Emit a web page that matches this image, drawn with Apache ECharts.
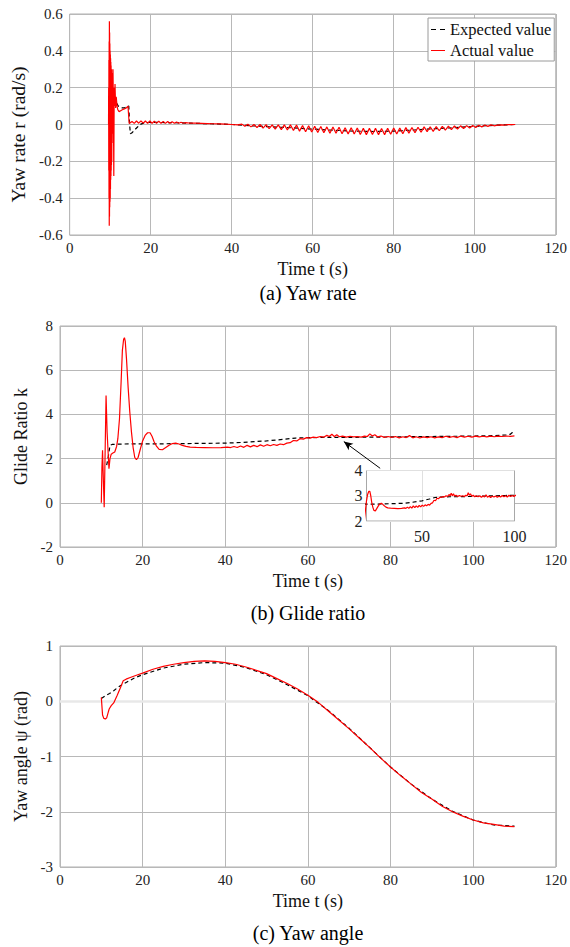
<!DOCTYPE html>
<html><head><meta charset="utf-8">
<script src="https://cdn.jsdelivr.net/npm/echarts@6/dist/echarts.min.js"></script>
<style>html,body{margin:0;padding:0;background:#fff}#c{width:570px;height:947px}</style>
</head><body><div id="c"></div>
<script>
// ---------- (a) Yaw rate ----------
const rateExpectedTime = [10, 10.5, 11, 11.5, 12, 12.5, 13, 13.5, 14, 14.4, 14.6, 14.8, 15.0, 15.4, 16, 16.7, 17.4, 18.5, 20, 25, 30, 35, 40, 45, 50, 55, 60, 65, 70, 75, 80, 85, 90, 95, 100, 105, 110];
const rateExpectedValue = [0.3, 0.18, 0.14, 0.12, 0.1, 0.095, 0.09, 0.09, 0.095, 0.1, 0.1, 0.0, -0.05, -0.045, -0.03, -0.015, 0.0, 0.01, 0.012, 0.01, 0.007, 0.004, 0.0, -0.007, -0.013, -0.018, -0.025, -0.031, -0.036, -0.038, -0.036, -0.030, -0.023, -0.017, -0.010, -0.004, 0.0];
const rateActualTime = [9.6, 9.63, 9.66, 9.69, 9.72, 9.75, 9.78, 9.81, 9.84, 9.87, 9.9, 9.93, 9.96, 9.99, 10.02, 10.05, 10.08, 10.11, 10.14, 10.17, 10.2, 10.23, 10.26, 10.29, 10.32, 10.35, 10.4, 10.45, 10.5, 10.55, 10.6, 10.7, 10.8, 10.9, 11.0, 11.1, 11.2, 11.35, 11.5, 11.7, 11.9, 12.2, 12.6, 13.0, 13.5, 14.0, 14.4, 14.55, 14.7,
  15.4, 15.95, 16.5, 17.05, 17.6, 18.15, 18.7, 19.25, 19.8, 20.35, 20.9, 21.45, 22.0, 22.55, 23.1, 23.65, 24.2, 24.75, 25.3, 25.85, 26.4, 26.95, 27.5, 28.05, 28.6,
  29.5, 31, 32.5, 34, 35.5, 37, 38.5, 40, 41.5,
  42.5, 43.25, 44.0, 44.75, 45.5, 46.25, 47.0, 47.75, 48.5, 49.25, 50.0, 50.75, 51.5, 52.25, 53.0, 53.75, 54.5, 55.25, 56.0, 56.75, 57.5, 58.25, 59.0, 59.75,
  60.5, 61.25, 62.0, 62.75, 63.5, 64.25, 65.0, 65.75, 66.5, 67.25, 68.0, 68.75, 69.5, 70.25, 71.0, 71.75, 72.5, 73.25, 74.0, 74.75, 75.5, 76.25, 77.0, 77.75,
  78.5, 79.25, 80.0, 80.75, 81.5, 82.25, 83.0, 83.75, 84.5, 85.25, 86.0, 86.75, 87.5, 88.25, 89.0, 89.75, 90.5, 91.25, 92.0, 92.75, 93.5, 94.25, 95.0, 95.75,
  96.5, 97.25, 98.0, 98.75, 99.5, 100.25, 101.0, 101.75, 102.5, 103.25, 104.0, 104.75,
  105.7, 106.5, 107.3, 108.1, 109, 110];
const rateActualValue = [0.0, 0.2, -0.25, 0.35, -0.4, 0.45, -0.55, 0.56, -0.5, 0.5, -0.45, 0.44, -0.42, 0.4, -0.4, 0.38, -0.35, 0.36, -0.3, 0.34, -0.28, 0.32, -0.25, 0.3, -0.22, 0.3, -0.2, 0.28, -0.1, 0.25, -0.05, 0.3, 0.1, -0.28, 0.2, 0.1, 0.22, 0.09, 0.15, 0.1, 0.08, 0.07, 0.075, 0.08, 0.085, 0.09, 0.1, 0.1, 0.005,
  0.016, 0.006, 0.019, 0.007, 0.02, 0.007, 0.019, 0.006, 0.019, 0.007, 0.018, 0.006, 0.018, 0.007, 0.017, 0.006, 0.016, 0.007, 0.015, 0.007, 0.014, 0.007, 0.012, 0.007, 0.01,
  0.008, 0.007, 0.006, 0.005, 0.004, 0.003, 0.002, 0.0, -0.002,
  0.002, -0.010, 0.001, -0.013, 0.0, -0.016, 0.0, -0.020, -0.001, -0.023, -0.002, -0.025, -0.002, -0.028, -0.002, -0.030, -0.002, -0.033, -0.003, -0.036, -0.005, -0.039, -0.007, -0.041,
  -0.009, -0.043, -0.011, -0.045, -0.013, -0.047, -0.014, -0.048, -0.015, -0.050, -0.018, -0.051, -0.018, -0.052, -0.019, -0.054, -0.021, -0.055, -0.021, -0.054, -0.021, -0.055, -0.022, -0.055,
  -0.020, -0.053, -0.019, -0.052, -0.019, -0.050, -0.017, -0.047, -0.016, -0.045, -0.015, -0.042, -0.013, -0.039, -0.012, -0.037, -0.011, -0.034, -0.010, -0.031, -0.009, -0.028, -0.008, -0.025,
  -0.007, -0.022, -0.006, -0.019, -0.005, -0.016, -0.004, -0.013, -0.003, -0.010, -0.002, -0.007,
  -0.003, -0.002, -0.003, -0.001, -0.001, 0.0];

// ---------- (b) Glide ratio ----------
const glideExpectedTime = [11.3, 11.7, 12.1, 12.6, 13.5, 15, 20, 25, 30, 35, 40, 44, 47, 50, 54, 57, 60, 65, 70, 75, 80, 85, 90, 95, 100, 105, 108, 109, 109.5, 110];
const glideExpectedValue = [1.7, 2.1, 2.6, 2.64, 2.65, 2.66, 2.67, 2.67, 2.68, 2.69, 2.7, 2.73, 2.77, 2.8, 2.87, 2.93, 2.95, 2.96, 2.96, 2.97, 2.98, 2.99, 3.0, 3.01, 3.02, 3.04, 3.07, 3.1, 3.18, 3.3];
const glideActualTime = [10.0, 10.15, 10.3, 10.5, 10.7, 10.95, 11.15, 11.4, 11.85, 12.1, 12.4, 12.8, 13.25, 13.7, 14.0, 14.4, 14.8, 15.1, 15.4, 15.6, 15.8, 16.1, 16.5, 16.9, 17.3, 17.7, 18.1, 18.5, 18.9, 19.4,
  20.0, 20.6, 21.2, 21.8, 22.3, 22.8, 23.4, 24.0, 24.8, 25.6, 26.4, 27.2, 28.0, 28.8, 29.6, 30.5, 31.5, 33, 35, 37, 39, 40.5, 41.3, 42.1, 42.9, 43.7, 44.5, 45.3, 46.1, 46.9,
  47.7, 48.5, 49.3, 50.1, 50.9, 51.7, 52.5, 53.3, 54.1, 54.9, 55.7, 56.5, 57.3, 58.1, 58.9, 59.7, 60.5, 61.3, 62.1, 63, 63.8, 64.6, 65.2, 65.8, 66.4, 67.0, 67.6, 68.4, 69.3, 70.2,
  71.1, 72.0, 72.9, 73.7, 74.4, 75.0, 75.6, 76.2, 76.9, 77.7, 78.5, 79.4, 80.3, 81.2, 82.1, 83.0, 83.8, 84.6, 85.4, 86.2, 87.1, 88.0, 88.9, 89.8, 90.7, 91.6, 92.5, 93.4, 94.3, 95.2,
  96.1, 97.0, 97.9, 98.8, 99.7, 100.6, 101.5, 102.4, 103.3, 104.2, 105.1, 106, 107, 108, 109, 110];
const glideActualValue = [0.0, 1.6, 2.38, 1.0, -0.2, 2.6, 4.86, 3.2, 1.54, 2.0, 2.2, 2.25, 2.3, 2.55, 2.9, 3.8, 5.5, 6.9, 7.4, 7.47, 7.3, 6.5, 5.2, 4.1, 3.2, 2.5, 2.05, 1.95, 2.05, 2.4,
  2.8, 3.05, 3.17, 3.17, 3.0, 2.75, 2.55, 2.42, 2.4, 2.5, 2.6, 2.68, 2.7, 2.66, 2.6, 2.55, 2.52, 2.51, 2.5, 2.49, 2.5, 2.52, 2.5, 2.55, 2.5, 2.57, 2.51, 2.6, 2.53, 2.6,
  2.54, 2.62, 2.56, 2.63, 2.58, 2.64, 2.6, 2.66, 2.63, 2.7, 2.72, 2.82, 2.8, 2.9, 2.88, 2.95, 2.93, 2.97, 2.95, 3.0, 2.97, 3.05, 3.0, 3.1, 3.0, 3.08, 2.99, 3.02, 2.97, 3.01,
  2.98, 3.0, 2.97, 3.02, 3.0, 3.12, 3.02, 3.08, 2.98, 3.02, 2.96, 3.0, 2.96, 3.0, 2.94, 2.99, 2.95, 3.04, 2.94, 2.99, 2.93, 2.98, 2.95, 2.99, 2.94, 2.98, 2.95, 3.01, 2.96, 3.0,
  2.95, 3.02, 2.97, 3.01, 2.97, 3.02, 2.98, 3.01, 2.98, 3.02, 2.99, 3.02, 3.0, 3.02, 3.01, 3.03];
const arrowFrom = [77.5, 1.56];
const arrowTo = [68.7, 2.77];

// ---------- (c) Yaw angle ----------
const yawExpectedTime = [10, 11, 12, 13, 14, 15, 16, 18, 20, 25, 30, 35, 40, 45, 50, 55, 60, 65, 70, 75, 80, 85, 90, 95, 100, 105, 110];
const yawExpectedValue = [0.05, 0.1, 0.14, 0.19, 0.25, 0.3, 0.34, 0.42, 0.48, 0.6, 0.67, 0.7, 0.69, 0.61, 0.48, 0.3, 0.1, -0.17, -0.49, -0.84, -1.19, -1.5, -1.77, -1.99, -2.15, -2.24, -2.26];
const yawActualTime = [10.0, 10.3, 10.6, 11.0, 11.3, 11.6, 11.9, 12.4, 13.0, 13.8, 14.6, 15.3, 16, 17, 18.5, 20, 22.5, 25, 27.5, 30, 32.5, 35, 37.5, 40, 42.5, 45, 47.5, 50, 52.5, 55, 57.5, 60, 62.5, 65, 67.5, 70, 72.5, 75, 77.5, 80, 82.5, 85, 87.5, 90, 92.5, 95, 97.5, 100, 102.5, 105, 107.5, 110];
const yawActualValue = [0.07, -0.25, -0.31, -0.32, -0.3, -0.22, -0.14, -0.08, -0.03, 0.1, 0.24, 0.37, 0.4, 0.43, 0.47, 0.51, 0.58, 0.63, 0.67, 0.7, 0.72, 0.73, 0.72, 0.7, 0.67, 0.62, 0.56, 0.5, 0.41, 0.32, 0.22, 0.11, -0.02, -0.18, -0.34, -0.5, -0.67, -0.84, -1.02, -1.19, -1.35, -1.5, -1.65, -1.77, -1.9, -2.0, -2.08, -2.15, -2.2, -2.23, -2.26, -2.27];

// ---------- axes ----------
const timeTicks = [0, 120, 20];
const insetTimeLabels = [50, 100];

const FONT = 'Liberation Serif';
const GRIDC = '#b8b8b8';
function zip(t, v) { const n = Math.min(t.length, v.length); const o = []; for (let i = 0; i < n; i++) o.push([t[i], v[i]]); return o; }

function xAx(gi) {
  return { type: 'value', gridIndex: gi, min: timeTicks[0], max: timeTicks[1], interval: timeTicks[2],
    name: 'Time t (s)', nameLocation: 'middle', nameGap: 25,
    nameTextStyle: { fontSize: 18, fontFamily: FONT, color: '#111' },
    axisLine: { show: false }, axisTick: { show: false },
    axisLabel: { fontSize: 15, fontFamily: FONT, color: '#222', margin: 5 },
    splitLine: { show: true, lineStyle: { color: GRIDC, width: 1 } } };
}
function yAx(gi, min, max, interval, name, gap, fs, pad) {
  return { type: 'value', gridIndex: gi, min, max, interval, name, nameLocation: 'middle', nameGap: gap,
    nameTextStyle: { fontSize: fs, fontFamily: FONT, color: '#111', padding: pad || 0 },
    axisLine: { show: false }, axisTick: { show: false },
    axisLabel: { fontSize: 15, fontFamily: FONT, color: '#222', margin: 7 },
    splitLine: { show: true, lineStyle: { color: GRIDC, width: 1 } } };
}
function line(name, gi, t, v, dashed, extra) {
  return Object.assign({
    type: 'line', name, xAxisIndex: gi, yAxisIndex: gi, data: zip(t, v),
    symbol: 'none', showSymbol: false, clip: true, z: dashed ? 2 : 3,
    lineStyle: dashed ? { color: '#000', width: 1.2, type: [4, 3] } : { color: '#ff0000', width: 1.2 },
    itemStyle: { color: dashed ? '#000' : '#ff0000' }
  }, extra || {});
}

const chart = echarts.init(document.getElementById('c'), null, { renderer: 'svg' });
chart.setOption({
  animation: false,
  backgroundColor: '#fff',
  textStyle: { fontFamily: FONT },
  grid: [
    { left: 60, top: 14, width: 497, height: 221, show: true, borderColor: '#b0b0b0', borderWidth: 1, backgroundColor: 'transparent' },
    { left: 60, top: 326, width: 497, height: 221, show: true, borderColor: '#b0b0b0', borderWidth: 1, backgroundColor: 'transparent' },
    { left: 60, top: 646, width: 497, height: 221, show: true, borderColor: '#b0b0b0', borderWidth: 1, backgroundColor: 'transparent' },
    { left: 366.5, top: 470.5, width: 148, height: 50.5, show: true, borderColor: '#a8a8a8', borderWidth: 1, backgroundColor: '#fff', z: 3 }
  ],
  xAxis: [
    xAx(0), xAx(1), xAx(2),
    { type: 'value', gridIndex: 3, min: 20, max: 100, interval: 10, z: 4,
      axisLine: { show: false }, axisTick: { show: false }, splitLine: { show: false },
      axisLabel: { fontSize: 16, fontFamily: FONT, color: '#222', margin: 7,
        formatter: v => insetTimeLabels.indexOf(v) >= 0 ? String(v) : '' } }
  ],
  yAxis: [
    yAx(0, -0.6, 0.6, 0.2, 'Yaw rate r (rad/s)', 36, 19.5, [0, 20, 0, 0]),
    yAx(1, -2, 8, 2, 'Glide Ratio k', 20, 18),
    yAx(2, -3, 1, 1, 'Yaw angle \u03c8 (rad)', 19, 18),
    { type: 'value', gridIndex: 3, min: 2, max: 4, interval: 1, z: 4,
      axisLine: { show: false }, axisTick: { show: false },
      axisLabel: { fontSize: 16, fontFamily: FONT, color: '#222', margin: 4 },
      splitLine: { show: true, lineStyle: { color: '#e0e0e0', width: 1 } } }
  ],
  legend: {
    orient: 'vertical', left: 428, top: 18, padding: [3, 3, 2, 3],
    itemWidth: 14, itemHeight: 1.4, itemGap: 4,
    borderColor: '#9a9a9a', borderWidth: 1, backgroundColor: '#fff',
    textStyle: { fontSize: 16.5, fontFamily: FONT, color: '#111' },
    data: [
      { name: 'Expected value', icon: 'path://M0,0h5v1h-5zM9,0h5v1h-5z' },
      { name: 'Actual value', icon: 'path://M0,0h14v1h-14z' }
    ]
  },
  graphic: [
    { type: 'text', x: 308, y: 293, style: { text: '(a) Yaw rate', font: '20px "Liberation Serif"', fill: '#000', textAlign: 'center', textVerticalAlign: 'middle' } },
    { type: 'text', x: 308, y: 613, style: { text: '(b) Glide ratio', font: '20px "Liberation Serif"', fill: '#000', textAlign: 'center', textVerticalAlign: 'middle' } },
    { type: 'text', x: 308, y: 933, style: { text: '(c) Yaw angle', font: '20px "Liberation Serif"', fill: '#000', textAlign: 'center', textVerticalAlign: 'middle' } }
  ],
  series: [
    line('Expected value', 0, rateExpectedTime, rateExpectedValue, true),
    line('Actual value', 0, rateActualTime, rateActualValue, false),
    line('Expected value', 1, glideExpectedTime, glideExpectedValue, true, {
      markLine: { silent: true, symbol: ['none', 'arrow'], symbolSize: [6, 9], z: 5,
        label: { show: false }, lineStyle: { color: '#000', width: 1, type: 'solid' },
        data: [[{ coord: arrowFrom }, { coord: arrowTo }]] }
    }),
    line('Actual value', 1, glideActualTime, glideActualValue, false),
    line('Expected value', 2, yawExpectedTime, yawExpectedValue, true, {
      markLine: { silent: true, symbol: 'none', z: 1, label: { show: false },
        lineStyle: { color: '#e8e8e8', width: 2.5, type: 'solid' }, data: [{ yAxis: 0 }] }
    }),
    line('Actual value', 2, yawActualTime, yawActualValue, false),
    line('Expected value', 3, glideExpectedTime, glideExpectedValue, true, { z: 5,
      markLine: { silent: true, symbol: 'none', z: 4, label: { show: false },
        lineStyle: { color: '#e0e0e0', width: 1, type: 'solid' }, data: [{ xAxis: 50 }] }
    }),
    line('Actual value', 3, glideActualTime, glideActualValue, false, { z: 6 })
  ]
});
</script></body></html>
